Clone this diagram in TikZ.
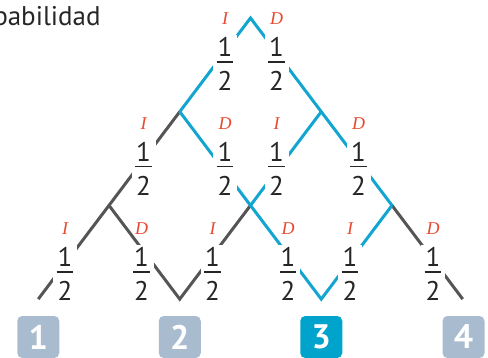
\documentclass[tikz,border=0pt]{standalone}
\usepackage{fontspec}
\setmainfont{PT Sans}
\newfontfamily\serifit{Liberation Serif}
\usetikzlibrary{positioning}
\definecolor{pathblue}{HTML}{12A5CF}
\definecolor{linegray}{HTML}{555555}
\definecolor{slotgray}{HTML}{A9BCCF}
\definecolor{slotblue}{HTML}{00A3CC}
\definecolor{labelred}{HTML}{E8482E}
\newcommand{\half}{\vbox{\hbox to 8.4pt{\hss 1\hss}\kern2.4pt\hrule height 0.6pt\kern4.4pt\hbox to 8.4pt{\hss 2\hss}}}
\begin{document}
\begin{tikzpicture}[x=0.5pt,y=-0.5pt]
    \tikzset{edge/.style={line width=1.5pt},
        grayedge/.style={edge, draw=linegray},
        blueedge/.style={edge, draw=pathblue},
        frac/.style={fill=white, text=black!85, inner xsep=1.8pt, inner ysep=1pt, font=\fontsize{13.5}{16}\selectfont},
        side/.style={text=labelred, inner sep=0pt, font=\serifit\itshape\fontsize{9}{10}\selectfont},
        slot/.style={fill=slotgray, text=white, rounded corners=2.5pt, minimum size=21pt, inner sep=0pt, font=\bfseries\fontsize{17}{19}\selectfont}}
    \useasboundingbox (0,0) rectangle (488,358);
    \clip (0,0) rectangle (488,358);
    \node[anchor=base east, inner sep=0pt, text=black!85, font=\fontsize{13.5}{16}\selectfont] (title) at (101,26) {Probabilidad};
    \coordinate (top) at (250.5,18);
    \coordinate (l1a) at (179.75,111.7);
    \coordinate (l1b) at (321.25,111.7);
    \coordinate (l2a) at (109,205.4);
    \coordinate (l2b) at (250.5,205.4);
    \coordinate (l2c) at (392,205.4);
    \coordinate (b1) at (38.25,299.1);
    \coordinate (b2) at (179.75,299.1);
    \coordinate (b3) at (321.25,299.1);
    \coordinate (b4) at (462.75,299.1);
    \draw[grayedge] (l1a) -- (l2a) -- (b1);
    \draw[grayedge] (l2a) -- (b2) -- (l2b);
    \draw[grayedge] (l2c) -- (b4);
    \draw[blueedge] (l1a) -- (top) -- (l1b) -- (l2c);
    \draw[blueedge] (l1a) -- (l2b) -- (b3) -- (l2c);
    \draw[blueedge] (l1b) -- (l2b);
    \foreach \x/\y/\s [count=\i] in {225/64/I, 276.5/64/D,
        143.5/168.5/I, 225/168.5/D, 276.5/168.5/I, 358.5/168.5/D,
        65/274/I, 141.5/274/D, 212.5/274/I, 288/274/D, 350/274/I, 433/274/D}
        {\node[frac] (f\i) at (\x,\y) {\half};
         \node[side, above=5pt of f\i] (s\i) {\s};}
    \node[slot] (n1) at (38.25,337) {1};
    \node[slot] (n2) at (179.75,337) {2};
    \node[slot, fill=slotblue] (n3) at (321.25,337) {3};
    \node[slot] (n4) at (463.5,337) {4};
\end{tikzpicture}
\end{document}
